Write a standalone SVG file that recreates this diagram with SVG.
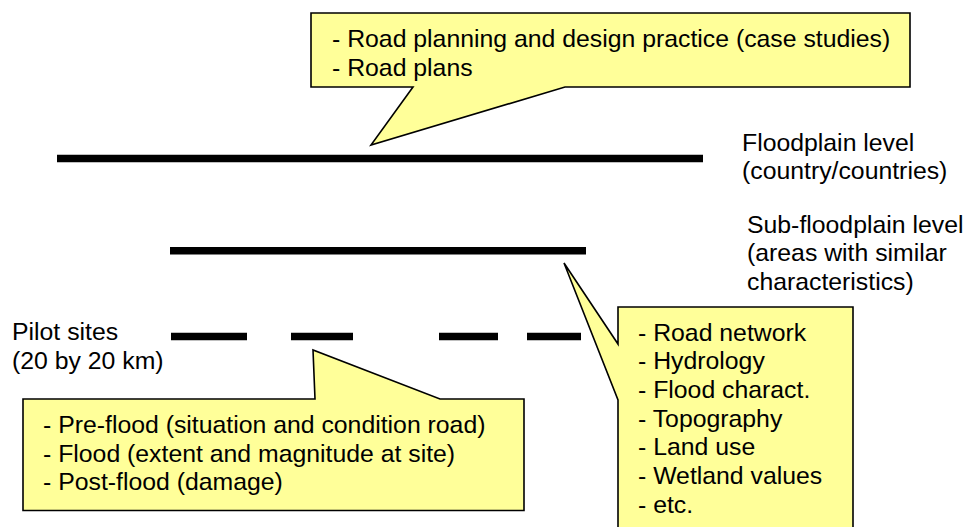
<svg xmlns="http://www.w3.org/2000/svg" width="966" height="527" viewBox="0 0 966 527">
  <style>
    .bg { fill: #ffffff; }
    .callout { fill: #ffff99; stroke: #000000; stroke-width: 1.6; stroke-linejoin: miter; }
    .level { stroke: #000000; stroke-width: 7.5; fill: none; }
    .txt { font-family: "Liberation Sans", Arial, sans-serif; font-size: 24.8px; fill: #000000; }
  </style>
  <rect class="bg" x="0" y="0" width="966" height="527"/>

  <!-- level lines -->
  <g id="connectors">
    <line id="floodplain-line" class="level" x1="57" y1="158.5" x2="703" y2="158.5"/>
    <line id="subfloodplain-line" class="level" x1="170" y1="250.8" x2="586" y2="250.8"/>
    <g id="pilot-dashes">
      <line class="level" x1="171" y1="336.5" x2="247" y2="336.5"/>
      <line class="level" x1="291" y1="336.5" x2="353" y2="336.5"/>
      <line class="level" x1="439" y1="336.5" x2="498" y2="336.5"/>
      <line class="level" x1="527" y1="336.5" x2="581" y2="336.5"/>
    </g>
  </g>

  <!-- level labels -->
  <g id="label-floodplain">
    <text class="txt" x="742" y="150.5">Floodplain level</text>
    <text class="txt" x="742" y="179">(country/countries)</text>
  </g>
  <g id="label-subfloodplain">
    <text class="txt" x="747" y="232.7">Sub-floodplain level</text>
    <text class="txt" x="747" y="261.3">(areas with similar</text>
    <text class="txt" x="747" y="290">characteristics)</text>
  </g>
  <g id="label-pilot">
    <text class="txt" x="12" y="340">Pilot sites</text>
    <text class="txt" x="12" y="368.5">(20 by 20 km)</text>
  </g>

  <!-- callouts -->
  <g id="callout-floodplain">
    <path class="callout" d="M311,13 H910 V87 H565 L371,145 L413,87 H311 Z"/>
    <text class="txt" x="332" y="46.7">- Road planning and design practice (case studies)</text>
    <text class="txt" x="332" y="75.5">- Road plans</text>
  </g>
  <g id="callout-subfloodplain">
    <path class="callout" d="M618,307 H853 V545 H618 V400 L564,263 L618,344 Z"/>
    <text class="txt" x="638" y="340.7">- Road network</text>
    <text class="txt" x="638" y="369.3">- Hydrology</text>
    <text class="txt" x="638" y="398">- Flood charact.</text>
    <text class="txt" x="638" y="426.7">- Topography</text>
    <text class="txt" x="638" y="455.3">- Land use</text>
    <text class="txt" x="638" y="484">- Wetland values</text>
    <text class="txt" x="638" y="512.7">- etc.</text>
  </g>
  <g id="callout-pilot">
    <path class="callout" d="M23,399 H315 L313,350 L440,399 H524 V510.5 H23 Z"/>
    <text class="txt" x="43" y="433">- Pre-flood (situation and condition road)</text>
    <text class="txt" x="43" y="461.5">- Flood (extent and magnitude at site)</text>
    <text class="txt" x="43" y="490">- Post-flood (damage)</text>
  </g>
</svg>
